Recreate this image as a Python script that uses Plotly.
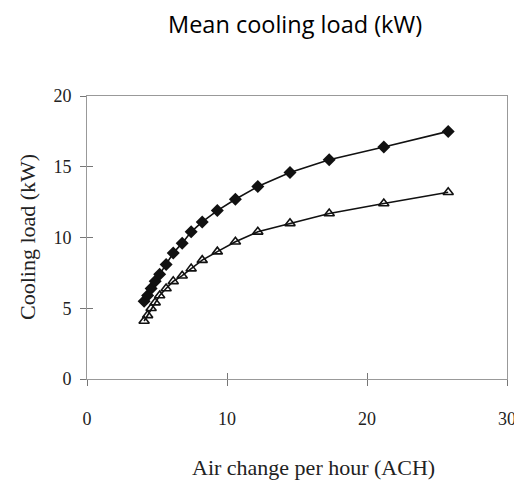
import plotly.graph_objects as go

ach = [4.08, 4.33, 4.58, 4.87, 5.19, 5.65, 6.16, 6.80, 7.44, 8.23, 9.31, 10.6, 12.2, 14.5, 17.3, 21.2, 25.8]
load_upper = [5.5, 5.9, 6.4, 6.9, 7.4, 8.1, 8.9, 9.6, 10.4, 11.1, 11.9, 12.7, 13.6, 14.6, 15.5, 16.4, 17.5]
load_lower = [4.1, 4.5, 5.0, 5.4, 5.9, 6.4, 6.9, 7.3, 7.8, 8.4, 9.0, 9.7, 10.4, 11.0, 11.7, 12.4, 13.2]
x_ticks = [0, 10, 20, 30]
y_ticks = [0, 5, 10, 15, 20]

W, H = 514, 481
L, R, T, B = 87, 7, 96, 102

fig = go.Figure()
fig.add_trace(go.Scatter(x=ach, y=load_upper, mode="lines+markers",
                         line=dict(color="#111", width=1.6),
                         marker=dict(symbol="diamond", size=10, color="#111")))
fig.add_trace(go.Scatter(x=ach, y=load_lower, mode="lines+markers",
                         line=dict(color="#111", width=1.6),
                         marker=dict(symbol="triangle-up-open", size=9, color="#111",
                                     line=dict(width=1.6))))
# empty trace to activate the overlay axes used for inward tick halves
fig.add_trace(go.Scatter(x=[], y=[], xaxis="x2", yaxis="y2", hoverinfo="skip"))

tickfont = dict(family="Liberation Serif", size=18, color="#222")
fig.update_layout(
    width=W, height=H,
    margin=dict(l=L, r=R, t=T, b=B),
    paper_bgcolor="white", plot_bgcolor="white",
    showlegend=False,
    xaxis=dict(range=[0, 30], tickvals=x_ticks, showgrid=False, zeroline=False,
               showline=True, linecolor="#999", linewidth=1, mirror=True,
               ticks="outside", ticklen=6, tickcolor="#777", automargin=False,
               ticklabeloverflow="allow",
               tickfont=tickfont, ticklabelstandoff=17),
    yaxis=dict(range=[0, 20], tickvals=y_ticks, showgrid=False, zeroline=False,
               showline=True, linecolor="#999", linewidth=1, mirror=True,
               ticks="outside", ticklen=6, tickcolor="#777", automargin=False,
               ticklabeloverflow="allow",
               tickfont=tickfont, ticklabelstandoff=5),
    xaxis2=dict(range=[0, 30], tickvals=x_ticks, overlaying="x", showticklabels=False,
                showgrid=False, zeroline=False, showline=False, ticks="inside",
                ticklen=6, tickcolor="#777", automargin=False),
    yaxis2=dict(range=[0, 20], tickvals=y_ticks, overlaying="y", showticklabels=False,
                showgrid=False, zeroline=False, showline=False, ticks="inside",
                ticklen=6, tickcolor="#777", automargin=False),
)
ann = [
    ("Mean cooling load (kW)", 295, 24, 0, dict(family="Open Sans", size=23.5, color="black")),
    ("Air change per hour (ACH)", 313, 467, 0, dict(family="Liberation Serif", size=22, color="#222")),
    ("Cooling load (kW)", 27, 237, -90, dict(family="Liberation Serif", size=22, color="#222")),
]
for text, px, py, ang, font in ann:
    fig.add_annotation(text=text, showarrow=False, textangle=ang, font=font,
                       xref="paper", yref="paper",
                       x=(px - L) / (W - L - R), y=(H - py - B) / (H - T - B),
                       xanchor="center", yanchor="middle")
# remove the default page margin so the figure fills the window exactly
fig.write_html("out.html", config={"displayModeBar": False},
               post_script="document.body.style.margin='0';document.body.style.overflow='hidden';")
